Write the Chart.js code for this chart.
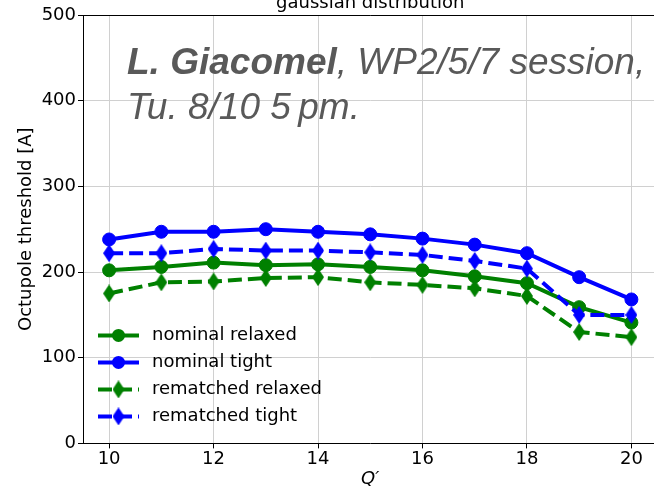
<!DOCTYPE html>
<html>
<head>
<meta charset="utf-8">
<script src="https://cdn.jsdelivr.net/npm/chart.js@4.4.1/dist/chart.umd.min.js"></script>
<style>
html,body{margin:0;padding:0;background:#fff;}
#wrap{width:654px;height:489px;overflow:hidden;}
canvas{display:block;}
</style>
</head>
<body>
<div id="wrap"><canvas id="myChart" width="665" height="489"></canvas></div>
<script>
const qPrime = [10, 11, 12, 13, 14, 15, 16, 17, 18, 19, 20];
const nominalRelaxed = [202, 206, 211, 208, 209, 206, 202, 195, 187, 159, 141];
const nominalTight = [238, 247, 247, 250, 247, 244, 239, 232, 222, 194, 168];
const rematchedRelaxed = [175, 188, 189, 193, 194, 188, 185, 181, 172, 130, 124];
const rematchedTight = [222, 222, 227, 225, 225, 223, 220, 213, 204, 150, 150];
const xTicks = [10, 12, 14, 16, 18, 20];
const yTicks = [0, 100, 200, 300, 400, 500];
const seriesNames = ['nominal relaxed', 'nominal tight', 'rematched relaxed', 'rematched tight'];

const GREEN = '#008000';
const BLUE = '#0000ff';
const FONT = 'DejaVu Sans';

function makeDiamond(color){
    const c = document.createElement('canvas');
    c.width = 12;
    c.height = 18;
    const g = c.getContext('2d');
    g.fillStyle = color;
    g.beginPath();
    g.moveTo(6, 0);
    g.lineTo(12, 9);
    g.lineTo(6, 18);
    g.lineTo(0, 9);
    g.closePath();
    g.fill();
    return c;
}

function toPoints(values){
    return qPrime.map((q, i) => ({x: q, y: values[i]}));
}

const greenDiamond = makeDiamond(GREEN);
const blueDiamond = makeDiamond(BLUE);

function series(label, values, color, dashed, marker, order){
    return {
        label: label,
        data: toPoints(values),
        borderColor: color,
        backgroundColor: color,
        borderWidth: 4,
        borderDash: dashed ? [14, 6] : [],
        pointStyle: marker,
        pointRadius: 6.5,
        pointBorderWidth: 1,
        pointBorderColor: color,
        pointBackgroundColor: color,
        tension: 0,
        order: order
    };
}

const datasets = [
    series(seriesNames[0], nominalRelaxed, GREEN, false, 'circle', 4),
    series(seriesNames[1], nominalTight, BLUE, false, 'circle', 3),
    series(seriesNames[2], rematchedRelaxed, GREEN, true, greenDiamond, 2),
    series(seriesNames[3], rematchedTight, BLUE, true, blueDiamond, 1)
];

// title, top spine, annotation text and legend inside the axes
const extras = {
    id: 'extras',
    afterDraw(chart){
        const ctx = chart.ctx;
        const a = chart.chartArea;
        ctx.save();
        ctx.strokeStyle = '#000';
        ctx.lineWidth = 1;
        ctx.beginPath();
        ctx.moveTo(a.left, a.top + 0.5);
        ctx.lineTo(a.right, a.top + 0.5);
        ctx.moveTo(a.right - 0.5, a.top);
        ctx.lineTo(a.right - 0.5, a.bottom);
        ctx.stroke();

        ctx.fillStyle = '#000';
        ctx.font = '18px "' + FONT + '"';
        ctx.textAlign = 'center';
        ctx.textBaseline = 'alphabetic';
        ctx.fillText('gaussian distribution', (a.left + a.right) / 2, 8);

        ctx.fillStyle = '#595959';
        ctx.textAlign = 'left';
        const tx = a.left + 44;
        ctx.font = 'italic bold 37px "Liberation Sans"';
        const bold = 'L. Giacomel';
        ctx.fillText(bold, tx, a.top + 59);
        const bw = ctx.measureText(bold).width;
        ctx.font = 'italic 37px "Liberation Sans"';
        ctx.fillText(', WP2/5/7 session,', tx + bw, a.top + 59);
        ctx.fillText('Tu. 8/10 5\u2009pm.', tx, a.top + 104);

        const lx = a.left + 15;
        let ly = a.bottom - 108;
        chart.data.datasets.forEach(ds => {
            ctx.strokeStyle = ds.borderColor;
            ctx.lineWidth = 4;
            ctx.setLineDash(ds.borderDash);
            ctx.beginPath();
            ctx.moveTo(lx, ly);
            ctx.lineTo(lx + 41, ly);
            ctx.stroke();
            ctx.setLineDash([]);
            const mx = lx + 20.5;
            if (ds.pointStyle === 'circle') {
                ctx.fillStyle = ds.borderColor;
                ctx.beginPath();
                ctx.arc(mx, ly, 6.5, 0, Math.PI * 2);
                ctx.fill();
            } else {
                ctx.drawImage(ds.pointStyle, mx - 6, ly - 9);
            }
            ctx.fillStyle = '#000';
            ctx.font = '18px "' + FONT + '"';
            ctx.textBaseline = 'middle';
            ctx.fillText(ds.label, lx + 54, ly);
            ctx.textBaseline = 'alphabetic';
            ly += 27;
        });
        ctx.restore();
    }
};

const chartConfig = {
    type: 'line',
    data: {datasets: datasets},
    options: {
        responsive: false,
        animation: false,
        devicePixelRatio: 1,
        layout: {padding: {top: 15, right: 3, left: 16, bottom: 1}},
        plugins: {legend: {display: false}, tooltip: {enabled: false}},
        scales: {
            x: {
                type: 'linear',
                min: 9.5,
                max: 20.5,
                afterBuildTicks: s => { s.ticks = xTicks.map(v => ({value: v})); },
                ticks: {color: '#000', font: {family: FONT, size: 18}, padding: 0, maxRotation: 0, autoSkip: false},
                grid: {color: '#d0d0d0', tickColor: '#000', tickLength: 5},
                border: {color: '#000', width: 1},
                title: {display: true, text: 'Q\u2032', color: '#000', padding: 0,
                        font: {family: FONT, size: 18, style: 'italic', lineHeight: 1}}
            },
            y: {
                min: 0,
                max: 500,
                afterBuildTicks: s => { s.ticks = yTicks.map(v => ({value: v})); },
                afterFit: s => { s.width = 67; },
                ticks: {color: '#000', font: {family: FONT, size: 18}, padding: 2},
                grid: {color: '#d0d0d0', tickColor: '#000', tickLength: 5},
                border: {color: '#000', width: 1},
                title: {display: true, text: 'Octupole threshold [A]', color: '#000', padding: 0,
                        font: {family: FONT, size: 18}}
            }
        }
    },
    plugins: [extras]
};

const chart1 = document.getElementById('myChart').getContext('2d');
const myChart1 = new Chart(chart1, chartConfig);
</script>
</body>
</html>
